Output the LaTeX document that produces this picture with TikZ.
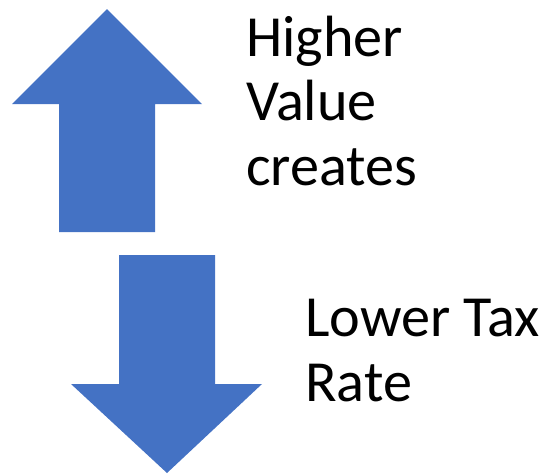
\documentclass[tikz,border=0pt]{standalone}
\usepackage{fontspec}
\setmainfont{Carlito}
\usepackage{tikz}
\definecolor{arrowblue}{HTML}{4472C4}
\tikzset{>=latex}
\tikzset{blockarrow/.style={fill=arrowblue,draw=none}}
\tikzset{caption/.style={anchor=base west,inner sep=0pt,align=left,
    font=\fontsize{58.2}{64.5}\selectfont}}

\begin{document}
\begin{tikzpicture}[x=1pt,y=-1pt]
    \useasboundingbox (0,0) rectangle (545,475);

    \coordinate (u0) at (107, 9);
    \coordinate (u1) at (202, 104);
    \coordinate (u2) at (155, 104);
    \coordinate (u3) at (155, 232);
    \coordinate (u4) at (59, 232);
    \coordinate (u5) at (59, 104);
    \coordinate (u6) at (12, 104);

    \fill [blockarrow] (u0) -- (u1) -- (u2) -- (u3) -- (u4) -- (u5) -- (u6) -- cycle;

    \coordinate (d0) at (167, 473);
    \coordinate (d1) at (71, 384);
    \coordinate (d2) at (119, 384);
    \coordinate (d3) at (119, 255);
    \coordinate (d4) at (215, 255);
    \coordinate (d5) at (215, 384);
    \coordinate (d6) at (262, 384);

    \fill [blockarrow] (d0) -- (d1) -- (d2) -- (d3) -- (d4) -- (d5) -- (d6) -- cycle;

    % base anchor sits on the last line
    \node [caption] (higher) at (246, 185) {Higher\\Value\\creates};
    \node [caption] (lower) at (305, 401) {Lower Tax\\Rate};
  \end{tikzpicture}
\end{document}
